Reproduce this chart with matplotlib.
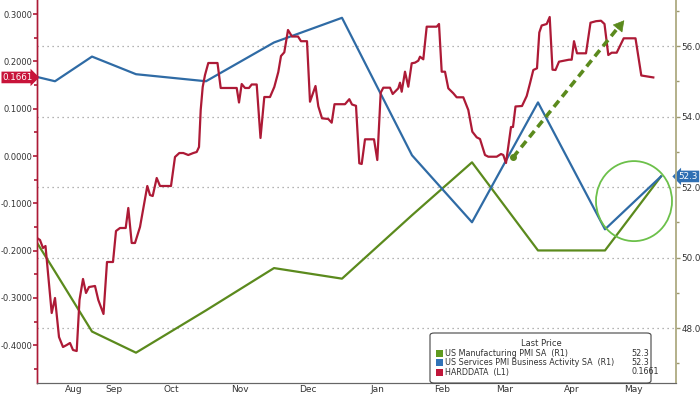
import numpy as np
import matplotlib
matplotlib.use("Agg")
import matplotlib.pyplot as plt
import matplotlib.transforms as mtransforms
from matplotlib.patches import Ellipse, FancyBboxPatch, Rectangle

# x axis is Bloomberg's observation axis (month widths are not equal)
months = ['Aug', 'Sep', 'Oct', 'Nov', 'Dec', 'Jan', 'Feb', 'Mar', 'Apr', 'May']
month_edges = [18, 55, 99, 169, 237, 305, 375, 435, 501, 568, 624]
x_max = 639

# monthly PMI prints (right axis), first point sits just left of the chart
pmi_x = [-26, 18, 55, 99, 169, 237, 305, 375, 435, 501, 568, 624]
services = [55.3, 55.0, 55.7, 55.2, 55.0, 56.1, 56.8, 52.9, 51.0, 54.4, 50.8, 52.3]
manufacturing = [51.6, 49.6, 47.9, 47.3, 48.5, 49.7, 49.4, 51.2, 52.7, 50.2, 50.2, 52.3]

# HARDDATA index (left axis)
hard_x = [0, 3, 6, 8.5, 14.7, 18, 22, 26, 29.7, 33, 36, 39.7, 42.5, 46, 49, 52, 58, 61.3, 66.5, 70,
          76, 79, 83, 88.7, 91.3, 94.7, 98, 103, 110.3, 113, 115.7, 119.7, 123, 134, 138, 142.3,
          146.3, 151.3, 156.3, 159.7, 162, 163.7, 165.7, 168, 171.3, 180.5, 183.7, 199.7, 202, 204.7,
          208, 212, 214.7, 219.7, 223.5, 227.3, 233, 237.3, 241.3, 244, 247.3, 251, 255, 261, 264,
          270, 273, 278.5, 281.3, 285, 291.3, 294.7, 297.5, 308, 312.3, 315, 319, 322.3, 324.7, 328,
          337, 340.3, 343.7, 346.3, 353, 355.7, 361.3, 363, 364.7, 368, 371.3, 374.7, 378, 381.3,
          383, 386.3, 389.7, 399.7, 402, 404.7, 408, 411.3, 416.3, 419.7, 426.3, 431.3, 435.3, 439.7,
          443, 448, 451.3, 459.7, 464, 466.3, 469, 471.5, 474, 476, 478.5, 485, 489.7, 493, 496.3,
          500, 502.3, 504.7, 509.7, 512.7, 515.5, 518.5, 522, 532, 534.7, 537, 540, 549, 553.5, 559,
          564, 567.5, 571.3, 574.7, 579.7, 586.7, 598.5, 604.3, 616.3]
harddata = [-0.1734, -0.1776, -0.1945, -0.1903, -0.3319, -0.3002, -0.3827, -0.4038, -0.3996, -0.3953,
            -0.4101, -0.4123, -0.3044, -0.2600, -0.2896, -0.2770, -0.2748, -0.3044, -0.3340, -0.2241,
            -0.2241, -0.1586, -0.1522, -0.1522, -0.1099, -0.1839, -0.1839, -0.1501, -0.0634, -0.0825,
            -0.0846, -0.0465, -0.0634, -0.0634, -0.0021, 0.0063, 0.0063, 0.0021, 0.0063, 0.0085,
            0.0190, 0.0973, 0.1459, 0.1712, 0.1966, 0.1966, 0.1438, 0.1438, 0.1131, 0.1522,
            0.1438, 0.1438, 0.1512, 0.1512, 0.0381, 0.1247, 0.1247, 0.1459, 0.1776, 0.2114,
            0.2192, 0.2664, 0.2526, 0.2526, 0.2427, 0.2427, 0.1148, 0.1480, 0.1051, 0.0797,
            0.0782, 0.0704, 0.1095, 0.1095, 0.1201, 0.1089, 0.1061, -0.0154, -0.0169, 0.0353,
            0.0353, -0.0085, 0.1338, 0.1444, 0.1444, 0.1311, 0.1431, 0.1550, 0.1359, 0.1782,
            0.1465, 0.1960, 0.1973, 0.2015, 0.2099, 0.2044, 0.2734, 0.2734, 0.2791, 0.1782,
            0.1782, 0.1431, 0.1326, 0.1241, 0.1241, 0.0973, 0.0514, 0.0395, 0.0359, 0.0021,
            -0.0015, -0.0015, 0.0042, 0.0021, -0.0148, 0.0233, 0.0613, 0.0613, 0.1047, 0.1057,
            0.1268, 0.1537, 0.1818, 0.1854, 0.2611, 0.2759, 0.2791, 0.2939, 0.1825, 0.1818,
            0.1994, 0.2036, 0.2036, 0.2427, 0.2171, 0.2171, 0.2818, 0.2850, 0.2860, 0.2791,
            0.2135, 0.2184, 0.2184, 0.2488, 0.2488, 0.1702, 0.1661]

left_ticks = [-0.4, -0.3, -0.2, -0.1, 0.0, 0.1, 0.2, 0.3]
right_ticks = [48, 50, 52, 54, 56]

# annotations (arrow and circle in right axis units)
arrow_start = (476, 52.84)
arrow_end = (589, 56.79)
circle_center = (597, 51.6)
circle_size = (76, 2.27)

RED = '#ad1a36'
BLUE = '#2f6ba5'
GREEN = '#5b8a1d'
TXT = '#333333'

fig = plt.figure(figsize=(7, 3.94), dpi=100)
ax2 = fig.add_axes([37 / 700, 11 / 394, 639 / 700, 383 / 394])
ax = ax2.twinx()
# left-axis series drawn on top
ax.yaxis.set_label_position('left')
ax.yaxis.tick_left()
ax2.yaxis.tick_right()
ax2.yaxis.set_label_position('right')

ax.set_xlim(0, x_max)
ax.set_ylim(-0.4799, 0.3298)
ax2.set_ylim(46.44, 57.305)

# grid
ax2.set_yticks(right_ticks)
ax2.set_yticks(np.arange(47, 57.1, 1), minor=True)
ax2.yaxis.grid(True, which='major', ls=(0, (1, 3)), color='#9a9a9a', lw=0.9)
ax2.set_xticks(month_edges)
ax2.set_xticks([(a + b) / 2 for a, b in zip(month_edges[:-1], month_edges[1:])], minor=True)
ax2.set_xticklabels([])
ax2.set_xticklabels(months, minor=True)
ax2.xaxis.grid(True, which='major', ls=(0, (1, 3)), color='#9a9a9a', lw=0.9)
ax2.tick_params(axis='x', which='major', length=3, width=0.8, color='#666666')
ax2.tick_params(axis='x', which='minor', length=0, pad=1.5, labelsize=6.5, labelcolor=TXT)
ax.set_xticks([])

ax2.plot(pmi_x, manufacturing, color=GREEN, lw=1.6, zorder=3)
ax2.plot(pmi_x, services, color=BLUE, lw=1.6, zorder=3)
ax.plot(hard_x, harddata, color=RED, lw=1.6, zorder=3)

# left axis
ax.set_yticks(left_ticks)
ax.set_yticks(np.arange(-0.45, 0.33, 0.05), minor=True)
ax.set_yticklabels(['%.4f' % v for v in left_ticks])
ax.tick_params(axis='y', which='both', direction='out', color=RED, width=1.2, labelsize=6.0,
               labelcolor=TXT, pad=0.5)
ax.tick_params(axis='y', which='major', length=3)
ax.tick_params(axis='y', which='minor', length=2)
# right axis
ax2.set_yticklabels(['%.1f' % v for v in right_ticks])
ax2.tick_params(axis='y', which='both', direction='out', color='#9c9870', width=1.0, labelsize=6.3,
                labelcolor=TXT, pad=1)
ax2.tick_params(axis='y', which='major', length=3)
ax2.tick_params(axis='y', which='minor', length=2)

for a in (ax, ax2):
    a.spines['top'].set_visible(False)
    a.spines['left'].set_color(RED)
    a.spines['left'].set_linewidth(1.0)
    a.spines['right'].set_color('#b3b08a')
    a.spines['right'].set_linewidth(1.2)
    a.spines['bottom'].set_color('#666666')
ax.patch.set_visible(False)

# dashed arrow + circle
ax.plot([arrow_start[0], arrow_end[0] - 6], [arrow_start[1], arrow_end[1] - 0.2],
        transform=ax2.transData, color=GREEN, lw=2.6, dashes=(2.2, 1.4), zorder=5)
ax.plot([arrow_start[0]], [arrow_start[1]], 'o', ms=4, color=GREEN, transform=ax2.transData, zorder=5)
ax.annotate('', xy=arrow_end, xytext=(arrow_end[0] - 10, arrow_end[1] - 0.35),
            xycoords=ax2.transData, textcoords=ax2.transData,
            arrowprops=dict(arrowstyle='-|>,head_length=0.7,head_width=0.4', color=GREEN, lw=0.5),
            zorder=6)
ax.add_patch(Ellipse(circle_center, circle_size[0], circle_size[1], transform=ax2.transData,
                     fill=False, ec='#6cc04a', lw=1.3, zorder=5))

# last value tags
tr_l = mtransforms.blended_transform_factory(fig.transFigure, ax.transData)
ax.text(0.004, harddata[-1], '%.4f' % harddata[-1], transform=tr_l, ha='left', va='center',
        fontsize=6.3, color='white', clip_on=False,
        bbox=dict(boxstyle='rarrow,pad=0.15', fc='#c8143a', ec='none'))
tr_r = mtransforms.blended_transform_factory(fig.transFigure, ax2.transData)
ax2.text(0.997, services[-1], '%.1f' % services[-1], transform=tr_r, ha='right', va='center',
         fontsize=6.3, color='white', clip_on=False,
         bbox=dict(boxstyle='larrow,pad=0.15', fc='#2f6fb3', ec='none'))

# legend box
def fy(py):
    return 1 - py / 394

fig.patches.append(FancyBboxPatch((430 / 700, fy(383)), 221 / 700, 50 / 394,
                                  boxstyle='round,pad=0,rounding_size=0.006',
                                  transform=fig.transFigure, fc='white', ec='#444444', lw=0.8,
                                  zorder=10))
fig.text(541 / 700, fy(343), 'Last Price', ha='center', va='center', fontsize=6.0, color=TXT, zorder=11)
legend_rows = [('US Manufacturing PMI SA  (R1)', '%.1f' % manufacturing[-1], '#5f9a1f'),
               ('US Services PMI Business Activity SA  (R1)', '%.1f' % services[-1], '#3173b8'),
               ('HARDDATA  (L1)', '%.4f' % harddata[-1], '#c0163a')]
for i, (name, val, col) in enumerate(legend_rows):
    py = 353 + i * 9.5
    fig.patches.append(Rectangle((436 / 700, fy(py + 3.5)), 7 / 700, 7 / 394,
                                 transform=fig.transFigure, fc=col, ec='none', zorder=11))
    fig.text(445 / 700, fy(py), name, ha='left', va='center', fontsize=5.8, color=TXT, zorder=11)
    fig.text(631 / 700, fy(py), val, ha='left', va='center', fontsize=5.8, color=TXT, zorder=11)

fig.savefig('out.png', dpi=100)
